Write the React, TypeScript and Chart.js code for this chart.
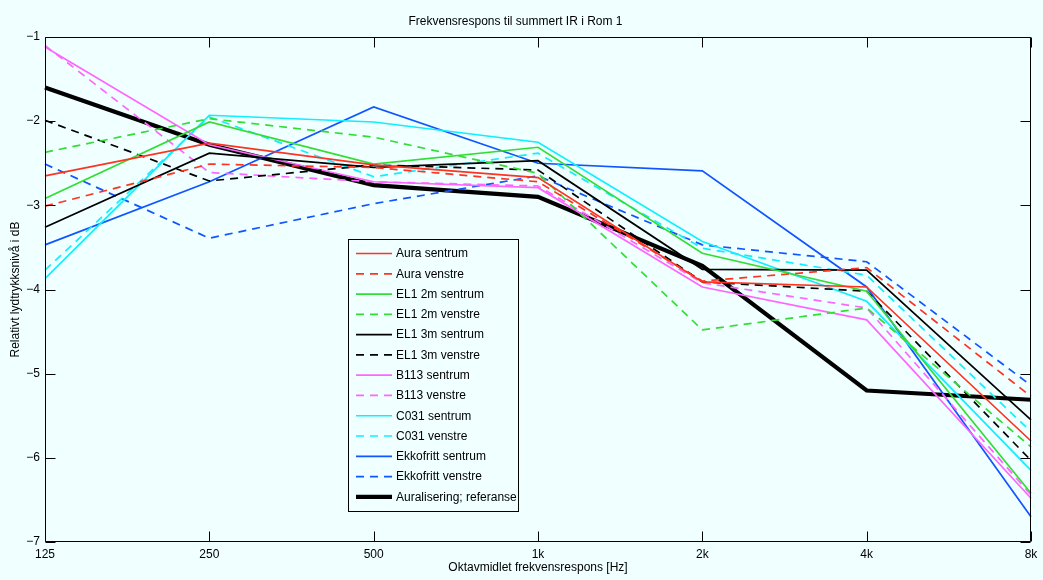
import { useEffect, useRef } from 'react';
import { Chart, registerables } from 'chart.js';

Chart.register(...registerables);

// Octave band centre frequencies (x categories)
const frequencies = ['125', '250', '500', '1k', '2k', '4k', '8k'];
// Level axis ticks [dB]
const levelTicks = [-7, -6, -5, -4, -3, -2, -1];

// Relative sound pressure level per octave band [dB]
const auraSentrum = [-2.65, -2.26, -2.52, -2.67, -3.91, -3.97, -5.8];
const auraVenstre = [-3.01, -2.51, -2.55, -2.72, -3.9, -3.74, -5.27];
const el12mSentrum = [-2.92, -2.01, -2.51, -2.31, -3.57, -4.02, -6.42];
const el12mVenstre = [-2.37, -1.97, -2.19, -2.62, -4.48, -4.22, -5.87];
const el13mSentrum = [-3.26, -2.38, -2.55, -2.47, -3.76, -3.77, -5.55];
const el13mVenstre = [-1.99, -2.71, -2.52, -2.58, -3.91, -4.02, -6.03];
const b113Sentrum = [-1.12, -2.28, -2.72, -2.79, -3.97, -4.36, -6.48];
const b113Venstre = [-1.1, -2.61, -2.72, -2.77, -3.92, -4.22, -6.44];
const c031Sentrum = [-3.87, -1.93, -2.01, -2.25, -3.43, -4.14, -6.15];
const c031Venstre = [-3.77, -1.95, -2.66, -2.38, -3.51, -3.83, -5.69];
const ekkofrittSentrum = [-3.47, -2.72, -1.83, -2.5, -2.59, -3.97, -6.7];
const ekkofrittVenstre = [-2.51, -3.39, -2.98, -2.65, -3.47, -3.67, -5.14];
const auraliseringReferanse = [-1.6, -2.28, -2.76, -2.9, -3.72, -5.2, -5.31];

const RED = '#FF3322';
const GREEN = '#33DD33';
const BLACK = '#000000';
const MAGENTA = '#FF66FF';
const CYAN = '#11EEFF';
const BLUE = '#1155FF';
const BG = '#F0FFFF';
const FONT = 'Liberation Sans, Arial, Helvetica, sans-serif';
const DASH = [8, 6];
const THIN = 1.7;

type SeriesDef = { label: string; data: number[]; color: string; dashed: boolean; width: number };

const series: SeriesDef[] = [
  { label: 'Aura sentrum', data: auraSentrum, color: RED, dashed: false, width: THIN },
  { label: 'Aura venstre', data: auraVenstre, color: RED, dashed: true, width: THIN },
  { label: 'EL1 2m sentrum', data: el12mSentrum, color: GREEN, dashed: false, width: THIN },
  { label: 'EL1 2m venstre', data: el12mVenstre, color: GREEN, dashed: true, width: THIN },
  { label: 'EL1 3m sentrum', data: el13mSentrum, color: BLACK, dashed: false, width: THIN },
  { label: 'EL1 3m venstre', data: el13mVenstre, color: BLACK, dashed: true, width: THIN },
  { label: 'B113 sentrum', data: b113Sentrum, color: MAGENTA, dashed: false, width: THIN },
  { label: 'B113 venstre', data: b113Venstre, color: MAGENTA, dashed: true, width: THIN },
  { label: 'C031 sentrum', data: c031Sentrum, color: CYAN, dashed: false, width: THIN },
  { label: 'C031 venstre', data: c031Venstre, color: CYAN, dashed: true, width: THIN },
  { label: 'Ekkofritt sentrum', data: ekkofrittSentrum, color: BLUE, dashed: false, width: THIN },
  { label: 'Ekkofritt venstre', data: ekkofrittVenstre, color: BLUE, dashed: true, width: THIN },
  { label: 'Auralisering; referanse', data: auraliseringReferanse, color: BLACK, dashed: false, width: 4.2 },
];

// Paints the figure background
const backgroundPlugin = {
  id: 'figureBackground',
  beforeDraw(chart: any) {
    const { ctx, width, height } = chart;
    ctx.save();
    ctx.fillStyle = BG;
    ctx.fillRect(0, 0, width, height);
    ctx.restore();
  },
};

// Axes box with inward tick marks on all four sides
const framePlugin = {
  id: 'axesFrame',
  afterDatasetsDraw(chart: any) {
    const { ctx, chartArea, scales } = chart;
    const { left, right, top, bottom } = chartArea;
    const xs = scales.x;
    const ys = scales.y;
    const len = 10;
    ctx.save();
    ctx.strokeStyle = '#000';
    ctx.lineWidth = 1;
    ctx.setLineDash([]);
    ctx.beginPath();
    const l = Math.round(left) + 0.5;
    const r = Math.round(right) - 0.5;
    const t = Math.round(top) + 0.5;
    const b = Math.round(bottom) - 0.5;
    ctx.rect(l, t, r - l, b - t);
    xs.ticks.forEach((_: any, i: number) => {
      const px = Math.round(xs.getPixelForTick(i)) + 0.5;
      ctx.moveTo(px, b);
      ctx.lineTo(px, b - len);
      ctx.moveTo(px, t);
      ctx.lineTo(px, t + len);
    });
    ys.ticks.forEach((tk: any) => {
      const py = Math.round(ys.getPixelForValue(tk.value)) + 0.5;
      ctx.moveTo(l, py);
      ctx.lineTo(l + len, py);
      ctx.moveTo(r, py);
      ctx.lineTo(r - len, py);
    });
    ctx.stroke();
    ctx.restore();
  },
};

// Boxed legend placed inside the axes
const boxedLegendPlugin = {
  id: 'boxedLegend',
  afterDraw(chart: any) {
    const { ctx, chartArea } = chart;
    const boxX = chartArea.left + 303;
    const boxY = chartArea.top + 202;
    const boxW = 170;
    const rowH = 20.28;
    const n = chart.data.datasets.length;
    const boxH = rowH * (n - 1) + 29;
    ctx.save();
    ctx.fillStyle = BG;
    ctx.fillRect(boxX, boxY, boxW, boxH);
    ctx.strokeStyle = '#000';
    ctx.lineWidth = 1;
    ctx.setLineDash([]);
    ctx.strokeRect(Math.round(boxX) + 0.5, Math.round(boxY) + 0.5, boxW, Math.round(boxH));
    ctx.font = `12px ${FONT}`;
    ctx.textBaseline = 'middle';
    ctx.textAlign = 'left';
    chart.data.datasets.forEach((ds: any, i: number) => {
      const cy = boxY + 14.5 + i * rowH;
      ctx.beginPath();
      ctx.strokeStyle = ds.borderColor;
      ctx.lineWidth = ds.borderWidth;
      ctx.setLineDash(ds.borderDash || []);
      ctx.moveTo(boxX + 8, cy);
      ctx.lineTo(boxX + 44, cy);
      ctx.stroke();
      ctx.fillStyle = '#000';
      ctx.fillText(ds.label, boxX + 48, cy + 0.5);
    });
    ctx.restore();
  },
};

export default function App() {
  const canvasRef = useRef<HTMLCanvasElement | null>(null);

  useEffect(() => {
    document.body.style.margin = '0';
    document.body.style.background = BG;
    const canvas = canvasRef.current;
    if (!canvas) return;

    const chart = new Chart(canvas, {
      type: 'line',
      data: {
        labels: frequencies,
        datasets: series.map((s) => ({
          label: s.label,
          data: s.data,
          borderColor: s.color,
          backgroundColor: s.color,
          borderWidth: s.width,
          borderDash: s.dashed ? DASH : [],
          pointRadius: 0,
          pointHoverRadius: 0,
          tension: 0,
          fill: false,
        })),
      },
      options: {
        animation: false,
        responsive: false,
        devicePixelRatio: 1,
        events: [],
        layout: { padding: { left: 0, right: 12, top: 0, bottom: 0 } },
        plugins: {
          legend: { display: false },
          tooltip: { enabled: false },
          title: {
            display: true,
            text: 'Frekvensrespons til summert IR i Rom 1',
            color: '#000',
            font: { family: FONT, size: 12, weight: 'normal' },
            padding: { top: 14, bottom: 8.6 },
          },
        },
        scales: {
          x: {
            type: 'category',
            offset: false,
            grid: { display: false, drawTicks: false },
            border: { display: false },
            ticks: {
              color: '#000',
              font: { family: FONT, size: 12 },
              padding: 5,
              maxRotation: 0,
              autoSkip: false,
            },
            title: {
              display: true,
              text: 'Oktavmidlet frekvensrespons [Hz]',
              color: '#000',
              font: { family: FONT, size: 12 },
              padding: { top: 0, bottom: 5 },
            },
            afterFit: (scale: any) => {
              scale.height = 38;
            },
          },
          y: {
            type: 'linear',
            min: levelTicks[0],
            max: levelTicks[levelTicks.length - 1],
            afterBuildTicks: (scale: any) => {
              scale.ticks = levelTicks.map((v) => ({ value: v }));
            },
            grid: { display: false, drawTicks: false },
            border: { display: false },
            ticks: {
              color: '#000',
              font: { family: FONT, size: 12 },
              padding: 5,
              callback: (v: any) => String(v).replace('-', '\u2212'),
            },
            title: {
              display: true,
              text: 'Relativt lydtrykksnivå i dB',
              color: '#000',
              font: { family: FONT, size: 12 },
              padding: { top: 8, bottom: 0 },
            },
            afterFit: (scale: any) => {
              scale.width = 45;
            },
          },
        },
      },
      plugins: [backgroundPlugin, framePlugin, boxedLegendPlugin],
    });

    return () => {
      chart.destroy();
    };
  }, []);

  return (
    <div style={{ width: 1043, height: 580, background: BG }}>
      <canvas ref={canvasRef} width={1043} height={580} />
    </div>
  );
}
